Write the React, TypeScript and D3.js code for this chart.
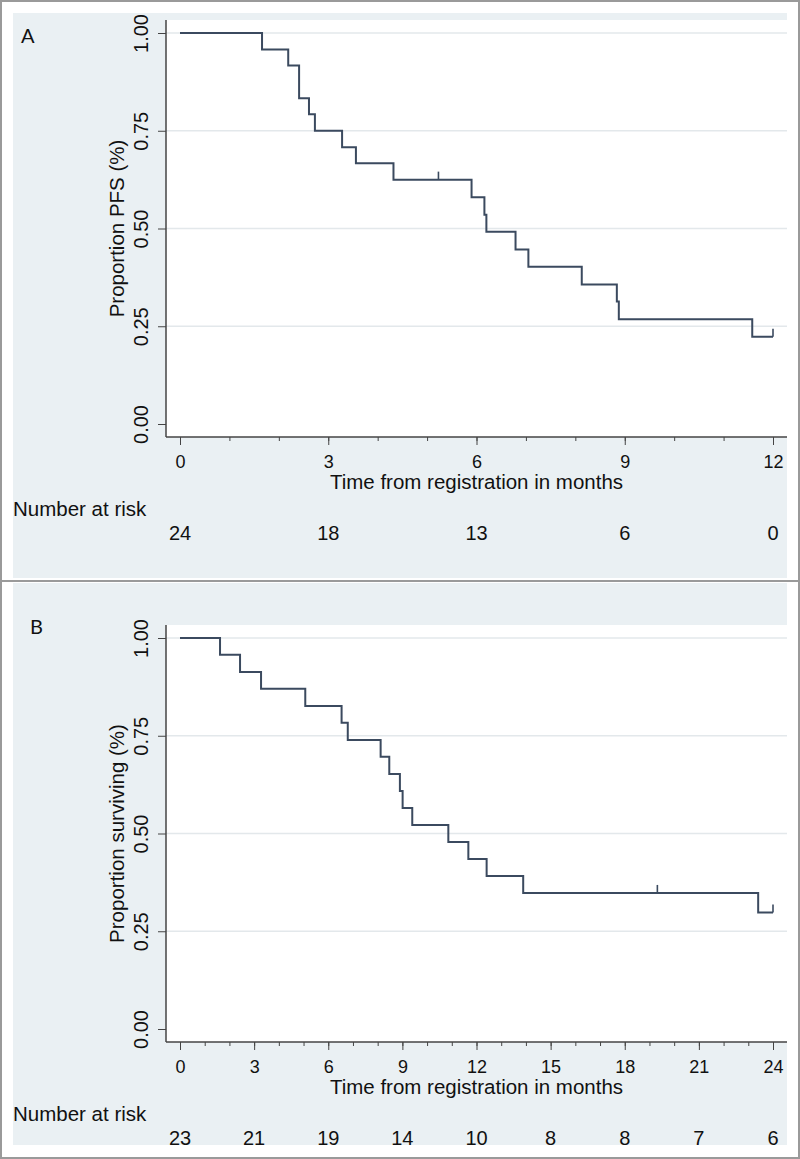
import { useEffect, useRef } from 'react'
import { select, scaleLinear, axisLeft, axisBottom, line, curveStepAfter, range, format } from 'd3'

// panel A - progression free survival (months, proportion)
const pfsTimes = [0, 1.66, 2.19, 2.41, 2.61, 2.73, 3.28, 3.56, 4.32, 5.9, 6.16, 6.2, 6.79, 7.05, 8.13, 8.84, 8.88, 11.58, 12.0]
const pfsSurv = [1.0, 0.958, 0.917, 0.833, 0.792, 0.75, 0.708, 0.667, 0.625, 0.58, 0.535, 0.492, 0.446, 0.402, 0.357, 0.313, 0.268, 0.223, 0.223]
const pfsCensor = [5.23, 12.0]
const pfsRiskTimes = [0, 3, 6, 9, 12]
const pfsRisk = [24, 18, 13, 6, 0]

// panel B - overall survival
const osTimes = [0, 1.62, 2.43, 3.28, 5.07, 6.54, 6.79, 8.12, 8.47, 8.9, 9.01, 9.4, 10.86, 11.67, 12.41, 13.89, 23.4, 24.0]
const osSurv = [1.0, 0.957, 0.913, 0.87, 0.826, 0.783, 0.739, 0.696, 0.652, 0.609, 0.565, 0.522, 0.478, 0.435, 0.391, 0.348, 0.298, 0.298]
const osCensor = [19.32, 24.0]
const osRiskTimes = [0, 3, 6, 9, 12, 15, 18, 21, 24]
const osRisk = [23, 21, 19, 14, 10, 8, 8, 7, 6]

const yTicks = [0, 0.25, 0.5, 0.75, 1]
const gridTicks = [0.25, 0.5, 0.75, 1]

const width = 800,
      height = 1159
const font = '"Liberation Sans", Arial, sans-serif'
const curveColor = '#3b4a5f'
const bgColor = '#eaf0f3'

type PanelProps = {
  top: number
  bgTop: number
  bgBottom: number
  label: string
  labelX: number
  labelY: number
  yTitle: string
  times: number[]
  surv: number[]
  censor: number[]
  xMax: number
  riskTimes: number[]
  riskCounts: number[]
}

function KMPanel(props: PanelProps) {
  const g_ref = useRef<SVGGElement>(null)

  useEffect(() => {
    const { top, bgTop, bgBottom, label, labelX, labelY, yTitle, times, surv, censor, xMax, riskTimes, riskCounts } = props
    const g = select(g_ref.current)
    g.selectAll('*').remove()

    const x = scaleLinear([0, xMax], [180, 773]),
          y = scaleLinear([0, 1], [424, 33])
    const plot = { left: 166, right: 787, top: 20, bottom: 437 }

    g.append('rect')
      .attr('x', 13).attr('y', bgTop - top)
      .attr('width', 774).attr('height', bgBottom - bgTop)
      .attr('fill', bgColor)

    g.append('rect')
      .attr('x', plot.left).attr('y', plot.top)
      .attr('width', plot.right - plot.left).attr('height', plot.bottom - plot.top)
      .attr('fill', '#fff')

    g.selectAll('.grid')
      .data(gridTicks)
      .join('line')
      .attr('x1', plot.left).attr('x2', plot.right)
      .attr('y1', d => y(d)).attr('y2', d => y(d))
      .attr('stroke', '#e3e8eb')
      .attr('stroke-width', 1.5)

    // y axis
    const yAxis = g.append('g')
      .attr('transform', `translate(${plot.left},0)`)
      .call(axisLeft(y).tickValues(yTicks).tickSize(8).tickSizeOuter(0).tickFormat(format('.2f')))
    yAxis.select('.domain').remove()
    yAxis.selectAll('line').attr('stroke', '#444')
    yAxis.selectAll('text')
      .attr('x', 0).attr('dy', 0)
      .attr('transform', 'translate(-18,0) rotate(-90)')
      .attr('text-anchor', 'middle')
      .attr('fill', '#111')
      .style('font-family', font)
      .style('font-size', '20px')

    // x axis, minor then major
    g.append('g')
      .attr('transform', `translate(0,${plot.bottom})`)
      .call(axisBottom(x).tickValues(range(0, xMax + 1)).tickSize(4).tickSizeOuter(0).tickFormat(() => ''))
      .call(s => s.select('.domain').remove())
      .call(s => s.selectAll('line').attr('stroke', '#444'))

    const xAxis = g.append('g')
      .attr('transform', `translate(0,${plot.bottom})`)
      .call(axisBottom(x).tickValues(riskTimes).tickSize(8).tickSizeOuter(0).tickPadding(10))
    xAxis.select('.domain').remove()
    xAxis.selectAll('line').attr('stroke', '#444')
    xAxis.selectAll('text')
      .attr('fill', '#111')
      .style('font-family', font)
      .style('font-size', '18px')

    g.append('line')
      .attr('x1', plot.left).attr('x2', plot.left)
      .attr('y1', plot.top).attr('y2', plot.bottom)
      .attr('stroke', '#444').attr('stroke-width', 1.5)
    g.append('line')
      .attr('x1', plot.left).attr('x2', plot.right)
      .attr('y1', plot.bottom).attr('y2', plot.bottom)
      .attr('stroke', '#444').attr('stroke-width', 1.5)

    // KM step curve
    const pts = times.map((t, i) => [t, surv[i]] as [number, number])
    g.append('path')
      .datum(pts)
      .attr('fill', 'none')
      .attr('stroke', curveColor)
      .attr('stroke-width', 2)
      .attr('d', line<[number, number]>()
        .x(d => x(d[0]))
        .y(d => y(d[1]))
        .curve(curveStepAfter))

    const survAt = (c: number) => {
      let s = 1
      times.forEach((t, i) => { if (t <= c) s = surv[i] })
      return s
    }
    g.selectAll('.censor')
      .data(censor)
      .join('line')
      .attr('x1', d => x(d)).attr('x2', d => x(d))
      .attr('y1', d => y(survAt(d))).attr('y2', d => y(survAt(d)) - 8)
      .attr('stroke', curveColor)
      .attr('stroke-width', 1.6)

    // titles and labels
    g.append('text')
      .attr('transform', `translate(124,${(y(0) + y(1)) / 2}) rotate(-90)`)
      .attr('text-anchor', 'middle')
      .style('font-family', font).style('font-size', '20.5px')
      .attr('fill', '#111')
      .text(yTitle)

    g.append('text')
      .attr('x', (x(0) + x(xMax)) / 2).attr('y', 489)
      .attr('text-anchor', 'middle')
      .style('font-family', font).style('font-size', '20.5px')
      .attr('fill', '#111')
      .text('Time from registration in months')

    g.append('text')
      .attr('x', 13).attr('y', 516)
      .style('font-family', font).style('font-size', '20.5px')
      .attr('fill', '#111')
      .text('Number at risk')

    g.selectAll('.risk')
      .data(riskCounts)
      .join('text')
      .attr('x', (d, i) => x(riskTimes[i])).attr('y', 540)
      .attr('text-anchor', 'middle')
      .style('font-family', font).style('font-size', '20px')
      .attr('fill', '#111')
      .text(d => d)

    g.append('text')
      .attr('x', labelX).attr('y', labelY - top)
      .style('font-family', 'Lato, "Open Sans", sans-serif').style('font-size', '20px')
      .attr('fill', '#111')
      .text(label)
  }, [])

  return <g ref={g_ref} transform={`translate(0,${props.top})`}></g>
}

function App() {
  return (
    <div style={{ position: 'absolute', left: 0, top: 0 }}>
      <svg width={width} height={height} viewBox={`0 0 ${width} ${height}`} style={{ display: 'block', background: '#fff' }}>
        <KMPanel top={0} bgTop={13} bgBottom={578} label='A' labelX={21} labelY={43}
          yTitle='Proportion PFS (%)' times={pfsTimes} surv={pfsSurv} censor={pfsCensor}
          xMax={12} riskTimes={pfsRiskTimes} riskCounts={pfsRisk} />
        <KMPanel top={605} bgTop={583} bgBottom={1145} label='B' labelX={30} labelY={634}
          yTitle='Proportion surviving (%)' times={osTimes} surv={osSurv} censor={osCensor}
          xMax={24} riskTimes={osRiskTimes} riskCounts={osRisk} />
        <rect x={1} y={1} width={width - 2} height={height - 2} fill='none' stroke='#9a9a9a' strokeWidth={2} />
        <line x1={0} x2={width} y1={581} y2={581} stroke='#9a9a9a' strokeWidth={2} />
      </svg>
    </div>
  )
}

export default App
